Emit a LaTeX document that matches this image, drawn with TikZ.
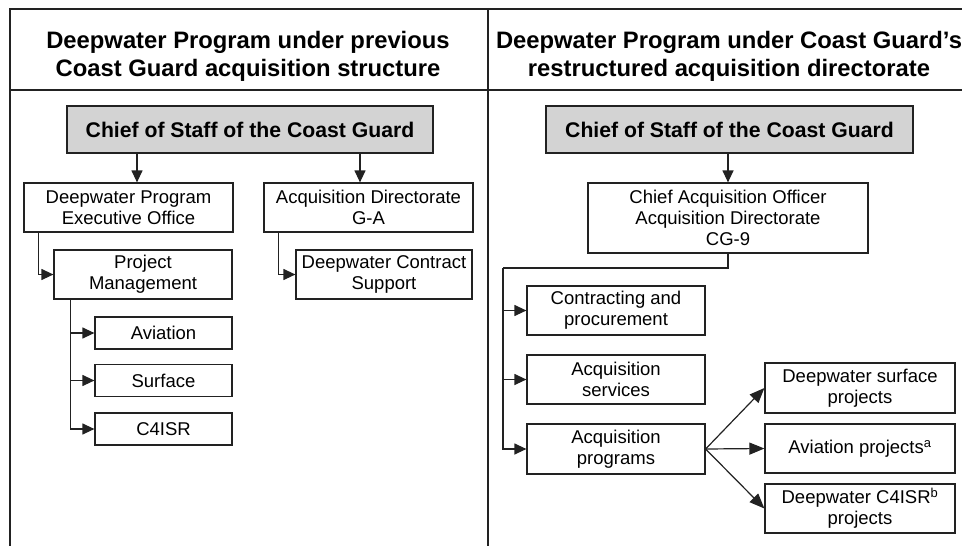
\documentclass[tikz,border=0pt]{standalone}
\usepackage{fontspec}
\setmainfont{Liberation Sans}
\usetikzlibrary{arrows.meta,calc}

\definecolor{inkgray}{HTML}{222222}
\definecolor{chieffill}{HTML}{D3D3D3}

\tikzset{
  frame/.style={draw=inkgray,line width=1.4pt},
  box/.style={draw=inkgray,line width=1.2pt,fill=white,align=center,inner sep=0pt,
    font=\fontsize{18.5}{21}\selectfont},
  chiefbox/.style={box,fill=chieffill,font=\fontsize{21.2}{24}\bfseries\selectfont,
    minimum width=366pt,minimum height=47pt},
  title/.style={align=center,font=\fontsize{23.8}{28}\bfseries\selectfont},
  arr/.style={draw=inkgray,line width=1.2pt,-{Triangle[length=12pt,width=11pt]}},
  bigarr/.style={arr,-{Triangle[length=15pt,width=12pt]}},
  link/.style={draw=inkgray,line width=1.2pt}
}

\begin{document}
\begin{tikzpicture}[x=1pt,y=-1pt]

    \useasboundingbox (0,0) rectangle (962,546);

    % define coordinates
    \coordinate (TL) at (10,9) ;
    \coordinate (TR) at (962,9) ;
    \coordinate (BL) at (10,546) ;
    \coordinate (HL) at (10,90) ;
    \coordinate (HR) at (962,90) ;
    \coordinate (MT) at (488,9) ;
    \coordinate (MB) at (488,546) ;
    \coordinate (busR) at (503,268) ;

    % frame
    \draw[frame] (BL) -- (TL) -- (TR) ;
    \draw[frame] (HL) -- (HR) ;
    \draw[frame] (MT) -- (MB) ;

    % titles
    \node[title] (titleL) at (248,56) {Deepwater Program under previous\\Coast Guard acquisition structure};
    \node[title] (titleR) at (729,56) {Deepwater Program under Coast Guard’s\\restructured acquisition directorate};

    % previous structure
    \node[chiefbox] (chiefL) at (250,129.5) {Chief of Staff of the Coast Guard};
    \node[box,minimum width=209pt,minimum height=49pt] (dpeo) at (128.5,207.5) {Deepwater Program\\Executive Office};
    \node[box,minimum width=209pt,minimum height=49pt] (acqdir) at (368.5,207.5) {Acquisition Directorate\\G-A};
    \node[box,minimum width=178pt,minimum height=49pt] (projmgmt) at (143,274.5) {Project\\Management};
    \node[box,minimum width=176pt,minimum height=49pt] (dcs) at (384,274.5) {Deepwater Contract\\Support};
    \node[box,minimum width=137pt,minimum height=32pt] (aviation) at (163.5,333) {Aviation};
    \node[box,minimum width=137pt,minimum height=32pt] (surface) at (163.5,380.5) {Surface};
    \node[box,minimum width=137pt,minimum height=32pt] (c4isr) at (163.5,429) {C4ISR};

    \draw[arr] ([xshift=-113pt]chiefL.south) -- ([xshift=-113pt]chiefL.south |- dpeo.north) ;
    \draw[arr] ([xshift=110pt]chiefL.south) -- ([xshift=110pt]chiefL.south |- acqdir.north) ;
    \draw[arr] ([xshift=15pt]dpeo.south west) |- (projmgmt.west) ;
    \draw[arr] ([xshift=15pt]acqdir.south west) |- (dcs.west) ;
    \foreach \sub in {aviation,surface,c4isr}
      \draw[arr] ([xshift=17pt]projmgmt.south west) |- (\sub.west) ;

    % restructured directorate
    \node[chiefbox,minimum width=367pt] (chiefR) at (729.5,129.5) {Chief of Staff of the Coast Guard};
    \node[box,minimum width=280pt,minimum height=70pt] (cao) at (728,218) {Chief Acquisition Officer\\Acquisition Directorate\\CG-9};
    \node[box,minimum width=178pt,minimum height=49pt] (contract) at (616,310.5) {Contracting and\\procurement};
    \node[box,minimum width=178pt,minimum height=49pt] (acqserv) at (616,379.5) {Acquisition\\services};
    \node[box,minimum width=178pt,minimum height=50pt] (acqprog) at (616,449) {Acquisition\\programs};
    \node[box,minimum width=190pt,minimum height=50pt] (surfproj) at (860,388) {Deepwater surface\\projects};
    \node[box,minimum width=190pt,minimum height=49pt] (aviproj) at (860,448.5) {Aviation projects\textsuperscript{a}};
    \node[box,minimum width=190pt,minimum height=49pt] (c4proj) at (860,508.5) {Deepwater C4ISR\textsuperscript{b}\\projects};

    \draw[arr] (chiefR.south -| cao.north) -- (cao.north) ;
    \draw[link] (cao.south) |- (busR) ;
    \foreach \sub in {contract,acqserv,acqprog}
      \draw[arr] (busR) |- (\sub.west) ;
    \foreach \proj in {surfproj,aviproj,c4proj}
      \draw[bigarr] (acqprog.east) -- (\proj.west) ;

\end{tikzpicture}
\end{document}
